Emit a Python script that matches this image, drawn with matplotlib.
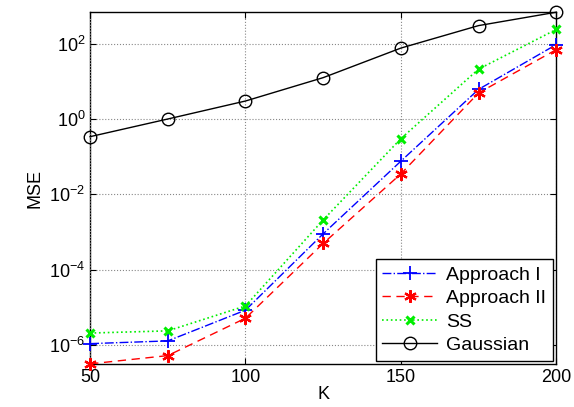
import matplotlib.pyplot as plt
import numpy as np

plt.rcParams['font.family'] = ['Liberation Sans', 'DejaVu Sans']
plt.rcParams['mathtext.fontset'] = 'custom'
plt.rcParams['mathtext.rm'] = 'Liberation Sans'

K = [50, 75, 100, 125, 150, 175, 200]
approach1 = [1.1e-6, 1.3e-6, 8.5e-6, 9e-4, 7.6e-2, 6.1, 94]
approach2 = [3.2e-7, 5.3e-7, 5.2e-6, 5e-4, 3.5e-2, 4.9, 69]
ss = [2.1e-6, 2.4e-6, 1.1e-5, 2.1e-3, 0.30, 21, 237]
gaussian = [0.34, 1.0, 3.0, 12.5, 76, 300, 680]

fig = plt.figure(figsize=(5.74, 4.07), dpi=100)
ax = fig.add_axes([0.157, 0.106, 0.812, 0.864])

ax.plot(K, approach1, '-.', color='blue', marker='+', ms=10, mew=1.3, lw=1,
        label='Approach I', clip_on=False)
ax.plot(K, approach2, '--', color='red', marker=(6, 2, 0), ms=9, mew=1.6, lw=1,
        label='Approach II', dashes=(6, 4), clip_on=False)
ax.plot(K, ss, ':', color='#00ee00', marker='x', ms=6, mew=2.2, lw=1.2,
        label='SS', clip_on=False)
ax.plot(K, gaussian, '-', color='black', marker='o', ms=9, mfc='none', mew=1, lw=1,
        label='Gaussian', clip_on=False)

ax.set_yscale('log')
ax.set_xlim(50, 200)
ax.set_ylim(min(approach2), max(gaussian))
ax.set_xticks([50, 100, 150, 200])
ax.set_yticks([1e-6, 1e-4, 1e-2, 1e0, 1e2])
ax.minorticks_off()
ax.tick_params(direction='in', top=True, right=True, labelsize=13, length=4)
ax.grid(True, linestyle=':', color='#888888', lw=0.8)
for s in ax.spines.values():
    s.set_linewidth(1)
    s.set_zorder(1)

ax.set_xlabel('K', fontsize=13, labelpad=0)
ax.set_ylabel('MSE', fontsize=13)

leg = ax.legend(loc='lower right', fontsize=14, frameon=True, fancybox=False, edgecolor='black',
                framealpha=1, handlelength=2.8, borderpad=0.35, labelspacing=0.3,
                borderaxespad=0.15, handletextpad=0.5)
leg.set_zorder(5)

fig.savefig('out.png', dpi=100)
